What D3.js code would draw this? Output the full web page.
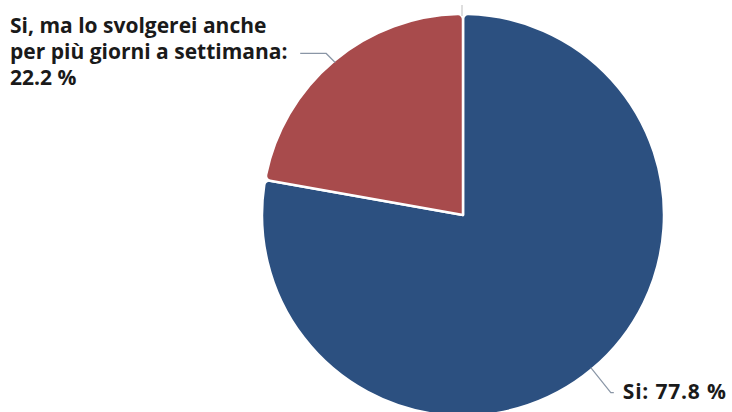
<!DOCTYPE html>
<html>
<head>
<meta charset="utf-8">
<script src="https://cdn.jsdelivr.net/npm/d3@7"></script>
<style>
  html, body { margin: 0; padding: 0; background: #ffffff; }
  svg { display: block; }
  text { font-family: "Open Sans", Lato, sans-serif; font-weight: 700; fill: #1a1a1a; }
</style>
</head>
<body>
<svg id="chart" width="732" height="412"></svg>
<script>
// Survey answers and their shares (%)
const categories = ["Si", "Si, ma lo svolgerei anche per più giorni a settimana"];
const values = [77.8, 22.2];
const colors = ["#2c5080", "#a84b4c"];

const svg = d3.select("#chart");
const cx = 463, cy = 215, radius = 201;
const fontSize = 21;

const pie = d3.pie().sort(null).value(d => d.value);
const arcs = pie(categories.map((c, i) => ({ name: c, value: values[i], color: colors[i] })));

const arc = d3.arc().innerRadius(0).outerRadius(radius).cornerRadius(5);

const g = svg.append("g").attr("transform", `translate(${cx},${cy})`);

g.selectAll("path.slice")
  .data(arcs)
  .join("path")
  .attr("class", "slice")
  .attr("d", arc)
  .attr("fill", d => d.data.color)
  .attr("stroke", "#ffffff")
  .attr("stroke-width", 2.5)
  .attr("stroke-linejoin", "round");

// small tick at the top of the pie
g.append("line")
  .attr("x1", -1).attr("x2", -1)
  .attr("y1", -radius - 9).attr("y2", -radius + 2)
  .attr("stroke", "#c8c8c8").attr("stroke-width", 1.2);

const leaderColor = "#8a96a6";
const fmt = d3.format(".1f");

// red slice (left): leader and three-line label
{
  const d = arcs[1];
  const mid = (d.startAngle + d.endAngle) / 2;
  const p0 = [Math.sin(mid) * (radius - 2), -Math.cos(mid) * (radius - 2)];
  const p1 = [p0[0] - 9, p0[1] - 9];
  const p2 = [p1[0] - 26, p1[1]];
  g.append("polyline")
    .attr("points", [p0, p1, p2].map(p => p.join(",")).join(" "))
    .attr("fill", "none").attr("stroke", leaderColor).attr("stroke-width", 1.2);
  const t = svg.append("text").attr("x", 10).attr("y", 33).attr("font-size", fontSize);
  t.append("tspan").attr("x", 10).attr("dy", 0).text("Si, ma lo svolgerei anche");
  t.append("tspan").attr("x", 10).attr("dy", 26).text("per più giorni a settimana:");
  t.append("tspan").attr("x", 10).attr("dy", 26).text(fmt(d.data.value) + " %");
}

// blue slice (right): leader and one-line label
{
  const d = arcs[0];
  const mid = (d.startAngle + d.endAngle) / 2;
  const p0 = [Math.sin(mid) * (radius - 2), -Math.cos(mid) * (radius - 2)];
  const p1 = [p0[0] + 20, p0[1] + 25];
  const p2 = [p1[0] + 3, p1[1]];
  g.append("polyline")
    .attr("points", [p0, p1, p2].map(p => p.join(",")).join(" "))
    .attr("fill", "none").attr("stroke", leaderColor).attr("stroke-width", 1.2);
  svg.append("text")
    .attr("x", cx + p2[0] + 9).attr("y", cy + p2[1] + 6)
    .attr("font-size", fontSize)
    .attr("letter-spacing", 0.8)
    .text(d.data.name + ": " + fmt(d.data.value) + " %");
}
</script>
</body>
</html>
